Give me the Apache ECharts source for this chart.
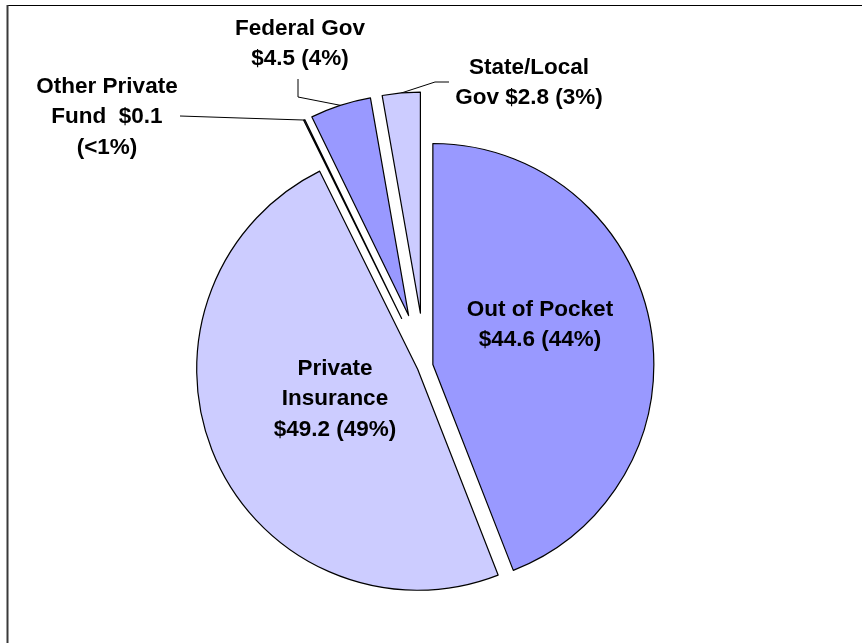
<!DOCTYPE html>
<html><head><meta charset="utf-8">
<script src="https://cdn.jsdelivr.net/npm/echarts@6/dist/echarts.min.js"></script>
<style>html,body{margin:0;padding:0;background:#fff}#c{width:862px;height:643px}</style>
</head><body><div id="c"></div>
<script>
const categories = ["Out of Pocket", "Private Insurance", "Other Private Fund", "Federal Gov", "State/Local Gov"];
const values = [44.6, 49.2, 0.1, 4.5, 2.8];
const labelNames = ["Out of Pocket\n", "Private\nInsurance\n", "Other Private\nFund  ", "Federal Gov\n", "State/Local\nGov "];
const pctBreaks = [" ", " ", "\n", " ", " "];
const colors = ["#9999FF", "#CCCCFF", "#CCCCFF", "#9999FF", "#CCCCFF"];
const explode = [8, 8, 53, 53, 53];
const labelPos = [[540, 325], [335, 399], [107, 117], [300, 44], [529, 83]];
const labelLineBends = [null, null, [[240, 118], [180, 116]], [[298, 97], [298, 79]], [[435, 82], [449, 82]]];

const C = [425, 366];
const R = 221;
const total = values.reduce((a, b) => a + b, 0);
const FONT = "'Liberation Sans', Arial, sans-serif";

function fmt(i) {
  const v = values[i];
  const p = v / total * 100;
  const pct = p < 1 ? "<1%" : Math.round(p) + "%";
  return labelNames[i] + "$" + v.toFixed(1) + pctBreaks[i] + "(" + pct + ")";
}

let acc = 0;
const series = values.map((v, i) => {
  const mid = (acc + v / 2) / total * 2 * Math.PI;
  acc += v;
  const cx = C[0] + explode[i] * Math.sin(mid);
  const cy = C[1] - explode[i] * Math.cos(mid);
  const ax = cx + R * Math.sin(mid), ay = cy - R * Math.cos(mid);
  const outside = labelLineBends[i] != null;
  return {
    type: 'pie',
    center: [cx, cy],
    radius: [0, R],
    startAngle: 90,
    clockwise: true,
    silent: true,
    animation: false,
    avoidLabelOverlap: false,
    minAngle: 0,
    emphasis: { disabled: true },
    label: {
      position: outside ? 'outside' : 'inside',
      formatter: p => fmt(p.dataIndex),
      fontFamily: FONT, fontWeight: 'bold', fontSize: 22.5, lineHeight: 30.5,
      color: '#000', align: 'center'
    },
    labelLine: { lineStyle: { color: '#000', width: 1 }, smooth: false, length: 10, length2: 10 },
    labelLayout: function (p) {
      if (p.dataIndex !== i) return {};
      const o = { x: labelPos[i][0], y: labelPos[i][1], align: 'center', verticalAlign: 'middle' };
      if (outside) o.labelLinePoints = [[ax, ay]].concat(labelLineBends[i]);
      return o;
    },
    data: values.map((vv, j) => ({
      value: vv,
      name: categories[j],
      itemStyle: j === i ? { color: colors[j], borderColor: '#000', borderWidth: 1.2 }
                         : { color: 'rgba(0,0,0,0)', borderWidth: 0 },
      label: { show: j === i },
      labelLine: { show: j === i && outside }
    }))
  };
});

const chart = echarts.init(document.getElementById('c'), null, { renderer: 'canvas' });
chart.setOption({
  animation: false,
  backgroundColor: '#fff',
  graphic: [
    { type: 'line', shape: { x1: 7, y1: 5.5, x2: 862, y2: 5.5 }, style: { stroke: '#000', lineWidth: 1.2 } },
    { type: 'line', shape: { x1: 7.5, y1: 5, x2: 7.5, y2: 643 }, style: { stroke: '#3a3a3a', lineWidth: 2 } }
  ],
  series: series
});
</script>
</body></html>
